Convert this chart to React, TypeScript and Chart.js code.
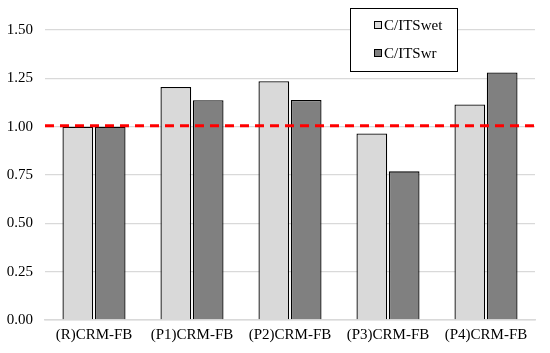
import React, { useEffect, useRef } from "react";
import { Chart, registerables } from "chart.js";

Chart.register(...registerables);

const categories = ["(R)CRM-FB", "(P1)CRM-FB", "(P2)CRM-FB", "(P3)CRM-FB", "(P4)CRM-FB"];
const wetValues = [1.0, 1.205, 1.235, 0.965, 1.115];
const wrValues = [1.0, 1.137, 1.138, 0.769, 1.28];
const seriesNames = ["C/ITSwet", "C/ITSwr"];
const refLineValue = 1.005;
const yTicks = [0, 0.25, 0.5, 0.75, 1.0, 1.25, 1.5];

const FONT = '"Liberation Serif", "DejaVu Serif", serif';

const refLinePlugin = {
  id: "refLine",
  afterDatasetsDraw(chart: any) {
    const { ctx, chartArea, scales } = chart;
    const y = scales.y.getPixelForValue(refLineValue);
    ctx.save();
    ctx.strokeStyle = "#ff0000";
    ctx.lineWidth = 3;
    ctx.setLineDash([9, 6]);
    ctx.beginPath();
    ctx.moveTo(chartArea.left, y);
    ctx.lineTo(chartArea.right, y);
    ctx.stroke();
    ctx.restore();
  },
};

const legendPlugin = {
  id: "boxLegend",
  afterDraw(chart: any) {
    const { ctx } = chart;
    const x0 = 350, y0 = 8, w = 107, h = 63;
    ctx.save();
    ctx.fillStyle = "#ffffff";
    ctx.fillRect(x0, y0, w, h);
    ctx.strokeStyle = "#000000";
    ctx.lineWidth = 1;
    ctx.strokeRect(x0 + 0.5, y0 + 0.5, w, h);
    const items = [
      { label: seriesNames[0], color: "#d9d9d9", y: 25 },
      { label: seriesNames[1], color: "#808080", y: 53 },
    ];
    ctx.font = `15px ${FONT}`;
    ctx.textBaseline = "middle";
    items.forEach((it) => {
      ctx.fillStyle = it.color;
      ctx.fillRect(374, it.y - 4, 8, 8);
      ctx.strokeStyle = "#000";
      ctx.lineWidth = 1;
      ctx.strokeRect(374.5, it.y - 3.5, 7, 7);
      ctx.fillStyle = "#000";
      ctx.fillText(it.label, 384, it.y + 1);
    });
    ctx.restore();
  },
};

export default function App() {
  const ref = useRef<HTMLCanvasElement>(null);
  useEffect(() => {
    if (!ref.current) return;
    const chart = new Chart(ref.current, {
      type: "bar",
      data: {
        labels: categories,
        datasets: [
          {
            label: seriesNames[0],
            data: wetValues,
            backgroundColor: "#d9d9d9",
            borderColor: "#000000",
            borderWidth: 1.3,
            barPercentage: 0.95,
            categoryPercentage: 0.66,
          },
          {
            label: seriesNames[1],
            data: wrValues,
            backgroundColor: "#808080",
            borderColor: "#000000",
            borderWidth: 1.3,
            barPercentage: 0.95,
            categoryPercentage: 0.66,
          },
        ],
      },
      options: {
        animation: false,
        responsive: false,
        maintainAspectRatio: false,
        layout: { padding: { top: 30, right: 15, left: 0, bottom: 0 } },
        plugins: { legend: { display: false }, tooltip: { enabled: false } },
        scales: {
          x: {
            grid: { display: false, drawTicks: false },
            border: { display: true, color: "#d9d9d9", width: 1.5 },
            ticks: { color: "#000", font: { family: FONT, size: 15 }, padding: 6, maxRotation: 0 },
            afterFit: (s: any) => { s.height = 33; },
          },
          y: {
            min: 0,
            max: 1.5,
            afterBuildTicks: (s: any) => { s.ticks = yTicks.map((v) => ({ value: v })); },
            grid: { color: "#d9d9d9", lineWidth: 1.3, drawTicks: false },
            border: { display: false },
            ticks: {
              color: "#000",
              font: { family: FONT, size: 15 },
              padding: 12,
              callback: (v: any) => Number(v).toFixed(2),
            },
            afterFit: (s: any) => { s.width = 45; },
          },
        },
      },
      plugins: [refLinePlugin, legendPlugin],
    });
    return () => chart.destroy();
  }, []);
  return (
    <div style={{ position: "fixed", left: 0, top: 0, width: 550, height: 353, background: "#fff" }}>
      <canvas ref={ref} width={550} height={353} />
    </div>
  );
}
